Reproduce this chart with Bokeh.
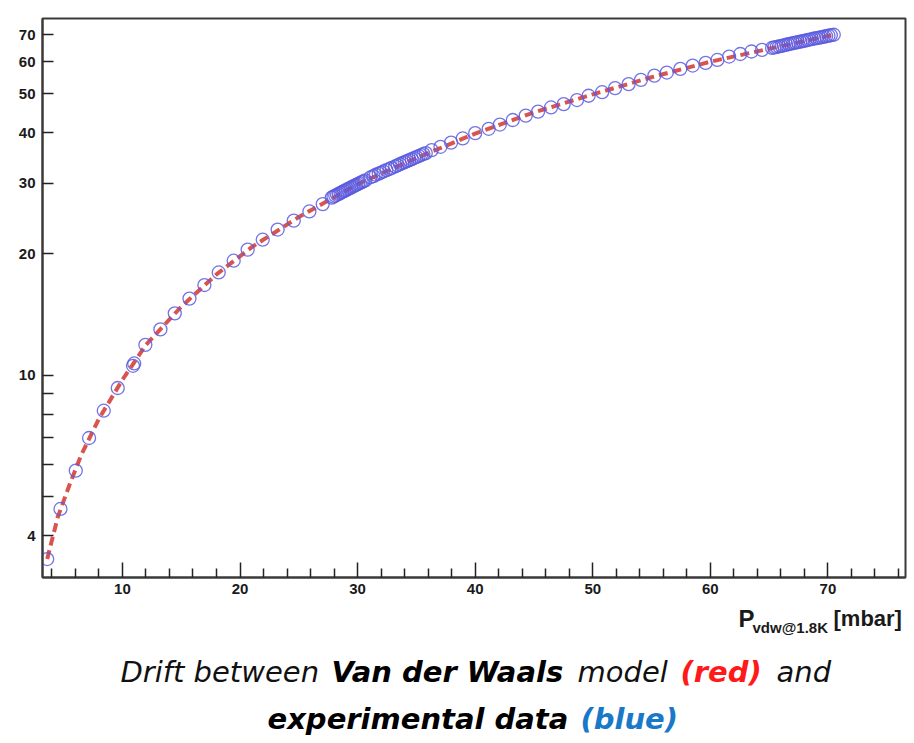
from bokeh.plotting import figure
from bokeh.models import FixedTicker, Label, Range1d
from bokeh.layouts import column
from bokeh.embed import file_html
from bokeh.resources import INLINE

# ---- experimental data (blue circles) ----
exp_x_a = [3.6, 4.73, 6.03, 7.16, 8.41, 9.6, 10.9, 11.0, 11.95, 13.23,
           14.45, 15.7, 16.97, 18.19, 19.46, 20.65, 21.93, 23.2, 24.57, 25.9, 27.03]
exp_y_a = [3.50, 4.66, 5.80, 6.99, 8.17, 9.30, 10.56, 10.70, 11.9, 13.0,
           14.25, 15.5, 16.75, 18.0, 19.25, 20.5, 21.7, 23.0, 24.2, 25.5, 26.6]
exp_x_b = [27.8, 27.95, 28.1, 28.25, 28.4, 28.55, 28.7, 28.85, 29.0, 29.15,
           29.3, 29.45, 29.6, 29.75, 29.9, 30.05, 30.2, 30.35, 30.5, 30.65]
exp_y_b = [27.6, 27.75, 27.9, 28.05, 28.2, 28.35, 28.5, 28.65, 28.8, 28.95,
           29.1, 29.25, 29.4, 29.55, 29.7, 29.85, 30.0, 30.15, 30.3, 30.45]
exp_x_c = [31.1, 31.35, 31.55, 31.8, 32.0, 32.2, 32.45, 32.7, 32.9]
exp_y_c = [31.0, 31.2, 31.45, 31.65, 31.85, 32.05, 32.3, 32.5, 32.7]
exp_x_d = [33.2, 33.4, 33.6, 33.8, 34.0, 34.2, 34.4, 34.6, 34.8, 35.0, 35.2, 35.4, 35.6, 35.8]
exp_y_d = [33.0, 33.2, 33.4, 33.6, 33.8, 34.0, 34.2, 34.4, 34.6, 34.8, 35.0, 35.2, 35.4, 35.6]
exp_x_e = [36.3, 37.05, 37.95, 38.94, 40.0, 41.15, 42.1, 43.2, 44.3, 45.35,
           46.45, 47.53, 48.66, 49.65, 50.8, 51.9, 53.05, 54.1, 55.24, 56.3,
           57.45, 58.5, 59.6, 60.6, 61.6, 62.55, 63.5, 64.4]
exp_y_e = [36.2, 36.9, 37.8, 38.7, 39.9, 40.9, 41.9, 43.0, 44.1, 45.1,
           46.2, 47.1, 48.2, 49.4, 50.4, 51.6, 52.8, 54.1, 55.4, 56.4,
           57.6, 58.7, 59.6, 60.6, 61.8, 62.7, 63.6, 64.2]
exp_x_f = [65.25, 65.45, 65.65, 65.85, 66.05, 66.25, 66.45, 66.65, 66.85, 67.05,
           67.25, 67.45, 67.65, 67.85, 68.05, 68.25, 68.45, 68.65, 68.85, 69.05,
           69.25, 69.45, 69.65, 69.85, 70.05, 70.25, 70.5]
exp_y_f = [64.9, 65.1, 65.3, 65.5, 65.7, 65.9, 66.1, 66.3, 66.5, 66.7,
           66.9, 67.1, 67.3, 67.5, 67.7, 67.9, 68.1, 68.3, 68.5, 68.65,
           68.85, 69.0, 69.2, 69.4, 69.6, 69.8, 70.0]

exp_x = exp_x_a + exp_x_b + exp_x_c + exp_x_d + exp_x_e + exp_x_f
exp_y = exp_y_a + exp_y_b + exp_y_c + exp_y_d + exp_y_e + exp_y_f

# ---- Van der Waals model (red dashed) ----
model_x = [3.6, 4.5, 5.5, 6.5, 8.0, 10.0, 12.0, 15.0, 18.0, 21.0,
           25.0, 30.0, 35.0, 40.0, 45.0, 50.0, 55.0, 60.0, 65.0, 70.5]
model_y = [3.5, 4.45, 5.35, 6.35, 7.8, 9.75, 11.9, 14.8, 17.8, 20.8,
           24.7, 29.8, 34.6, 39.8, 44.9, 49.8, 54.9, 60.0, 64.6, 70.0]

# ---- ticks ----
x_major = [10, 20, 30, 40, 50, 60, 70]
x_minor = [4, 6, 8, 12, 14, 16, 18, 22, 24, 26, 28, 32, 34, 36, 38, 42, 44, 46, 48,
           52, 54, 56, 58, 62, 64, 66, 68, 72, 74, 76]
y_major = [4, 10, 20, 30, 40, 50, 60, 70]
y_minor = [5, 6, 7, 8, 9]

W = 914
H1 = 600          # chart part
H2 = 143          # axis title + caption part
FL, FR = 42, 905  # frame left / right in page pixels

p = figure(width=W, height=H1, output_backend="svg", toolbar_location=None,
           y_axis_type="log",
           x_range=Range1d(3.2, 76.6), y_range=Range1d(3.15, 76.8),
           min_border_left=FL, min_border_top=18, min_border_right=W - FR,
           min_border_bottom=23)
p.background_fill_color = "white"
p.border_fill_color = "white"
p.outline_line_color = "#3a3a3a"
p.outline_line_width = 2
p.grid.visible = False

p.line(model_x, model_y, line_color="#d9534f", line_width=4, line_dash="9 5")
p.scatter(exp_x, exp_y, marker="circle", size=13, fill_color=None,
          line_color="#5a5ae0", line_alpha=0.85, line_width=1.3)

for ax in (p.xaxis[0], p.yaxis[0]):
    ax.axis_line_color = "#3a3a3a"
    ax.axis_line_width = 2
    ax.major_tick_line_color = "#222222"
    ax.minor_tick_line_color = "#222222"
    ax.major_tick_line_width = 1.5
    ax.minor_tick_line_width = 1.5
    ax.major_tick_out = 0
    ax.minor_tick_out = 0
    ax.major_label_text_font = "Liberation Sans"
    ax.major_label_text_font_style = "bold"
    ax.major_label_text_font_size = "15px"
    ax.major_label_text_color = "#1a1a1a"

p.xaxis.ticker = FixedTicker(ticks=x_major, minor_ticks=x_minor)
p.xaxis.major_tick_in = 15
p.xaxis.minor_tick_in = 9
p.xaxis.major_label_standoff = 6

p.yaxis.ticker = FixedTicker(ticks=y_major, minor_ticks=y_minor)
p.yaxis.major_tick_in = 11
p.yaxis.minor_tick_in = 11
p.yaxis.major_label_standoff = 7
p.yaxis.major_label_overrides = {v: str(v) for v in y_major}

# ---- lower panel: axis title and caption (frame aligned with the chart) ----
q = figure(width=W, height=H2, output_backend="svg", toolbar_location=None,
           x_range=Range1d(FL, FR), y_range=Range1d(0, H2),
           min_border_left=FL, min_border_right=W - FR,
           min_border_top=0, min_border_bottom=0,
           x_axis_type=None, y_axis_type=None)
q.outline_line_color = None
q.grid.visible = False
q.background_fill_color = "white"
q.border_fill_color = "white"

BASE_SHIFT = 10   # compensate the renderer's baseline offset

def lab(text, page_x, page_baseline, size, style, color, font):
    q.add_layout(Label(x=page_x, y=H1 + H2 - (page_baseline - BASE_SHIFT),
                       text=text, text_font=font, text_font_size=size,
                       text_font_style=style, text_color=color,
                       text_align="left", text_baseline="alphabetic"))

# x-axis title  P_vdw@1.8K [mbar]
lab("P", 738, 628, "24px", "bold", "#1a1a1a", "Liberation Sans")
lab("vdw@1.8K", 752, 637, "15px", "bold", "#1a1a1a", "Liberation Sans")
lab("[mbar]", 833, 628, "22px", "bold", "#1a1a1a", "Liberation Sans")

# caption
cap = "DejaVu Sans"
fs = "29px"
lab("Drift between", 120, 681, fs, "italic", "#111111", cap)
lab("Van der Waals", 331, 681, fs, "bold italic", "#000000", cap)
lab("model", 577, 681, fs, "italic", "#111111", cap)
lab("(red)", 680, 681, fs, "bold italic", "#ff1a1a", cap)
lab("and", 776, 681, fs, "italic", "#111111", cap)
lab("experimental data", 267, 728, fs, "bold italic", "#000000", cap)
lab("(blue)", 580, 728, fs, "bold italic", "#1a78c8", cap)

layout = column(p, q, spacing=0)
open("out.html", "w").write(file_html(layout, INLINE))
